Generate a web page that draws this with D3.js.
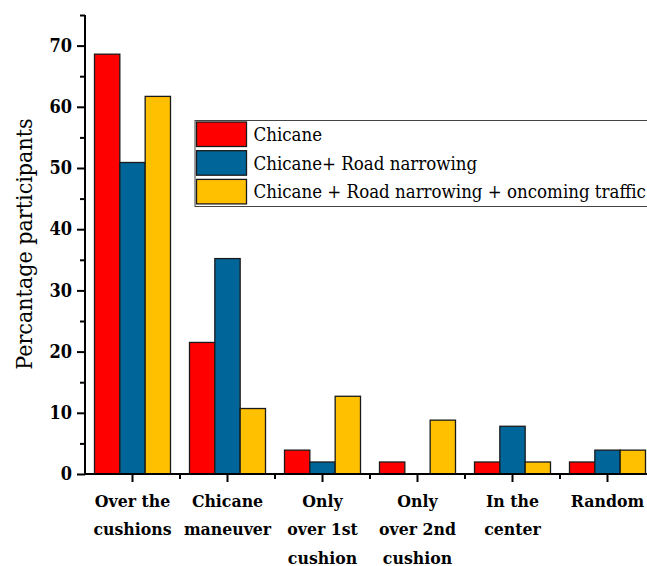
<!DOCTYPE html>
<html>
<head>
<meta charset="utf-8">
<script src="https://cdn.jsdelivr.net/npm/d3@7"></script>
<style>
  body { margin: 0; background: #fff; }
  svg { display: block; }
</style>
</head>
<body>
<div id="chart"></div>
<script>
// Data______________________________________________________
const categories = [
    ['Over the', 'cushions'],
    ['Chicane', 'maneuver'],
    ['Only', 'over 1st', 'cushion'],
    ['Only', 'over 2nd', 'cushion'],
    ['In the', 'center'],
    ['Random']
];
const seriesNames = ['Chicane', 'Chicane+ Road narrowing', 'Chicane + Road narrowing + oncoming traffic'];
const chicane = [68.6, 21.5, 3.9, 1.96, 1.96, 1.96];
const chicaneNarrowing = [50.9, 35.2, 1.96, 0, 7.8, 3.9];
const chicaneNarrowingTraffic = [61.7, 10.7, 12.7, 8.8, 1.96, 3.9];
const yTicks = [0, 10, 20, 30, 40, 50, 60, 70];
const colors = ['#ff0000', '#006699', '#ffc000'];

// Sizes_____________________________________________________
const width = 647;
const height = 566;
const x0 = 85, x1 = 655;
const yTop = 15, yBottom = 474;
const font = '"DejaVu Serif Condensed", "DejaVu Serif", serif';

const series = [chicane, chicaneNarrowing, chicaneNarrowingTraffic];

const svg = d3.select('#chart')
    .append('svg')
    .attr('width', width)
    .attr('height', height);

// the last category band runs past the right edge of the picture
const x = d3.scaleBand()
    .domain(d3.range(categories.length))
    .range([x0, x1])
    .paddingInner(0.2)
    .paddingOuter(0.1);

const xSub = d3.scaleBand()
    .domain(d3.range(series.length))
    .range([0, x.bandwidth()]);

const y = d3.scaleLinear()
    .domain([0, 75])
    .range([yBottom, yTop]);

// Bars______________________________________________________
const group = svg.selectAll('g.group')
    .data(categories)
    .enter()
    .append('g')
    .attr('class', 'group')
    .attr('transform', (d, i) => `translate(${x(i)},0)`);

group.selectAll('rect')
    .data((d, i) => series.map((s, k) => ({ k: k, v: s[i] })))
    .enter()
    .filter(d => d.v > 0)
    .append('rect')
    .attr('x', d => xSub(d.k))
    .attr('y', d => y(d.v))
    .attr('width', xSub.bandwidth())
    .attr('height', d => y(0) - y(d.v))
    .attr('fill', d => colors[d.k])
    .attr('stroke', '#1a1a1a')
    .attr('stroke-width', 1.3);

// Y axis____________________________________________________
const yAxis = d3.axisLeft(y)
    .tickValues(yTicks)
    .tickSize(8)
    .tickPadding(5)
    .tickFormat(d3.format('d'));

const yAxisMinor = d3.axisLeft(y)
    .tickValues(d3.range(5, 75, 10).concat([75]))
    .tickSize(5)
    .tickFormat('');

const gyMinor = svg.append('g')
    .attr('transform', `translate(${x0},0)`)
    .call(yAxisMinor);
gyMinor.select('.domain').remove();

const gy = svg.append('g')
    .attr('transform', `translate(${x0},0)`)
    .call(yAxis);
gy.select('.domain')
    .attr('d', `M0,${yTop}V${yBottom}`);

// X axis____________________________________________________
const xMajor = d3.axisBottom(x)
    .tickSize(8)
    .tickFormat('');

const gx = svg.append('g')
    .attr('transform', `translate(0,${yBottom})`)
    .call(xMajor);
gx.select('.domain')
    .attr('d', `M${x0},0H${width}`);

// minor ticks between categories
svg.append('g')
    .selectAll('line')
    .data(d3.range(1, categories.length))
    .enter()
    .append('line')
    .attr('x1', d => x0 + d * x.step())
    .attr('x2', d => x0 + d * x.step())
    .attr('y1', yBottom)
    .attr('y2', yBottom + 5)
    .attr('stroke', '#000')
    .attr('stroke-width', 2);

svg.selectAll('.tick line, .domain')
    .attr('stroke', '#000')
    .attr('stroke-width', 2);

gy.selectAll('.tick text')
    .attr('font-family', font)
    .attr('font-weight', 'bold')
    .attr('font-size', 18)
    .attr('fill', '#000');

// Category labels
const catLabel = svg.append('g')
    .selectAll('text')
    .data(categories)
    .enter()
    .append('text')
    .attr('x', (d, i) => x(i) + x.bandwidth() / 2)
    .attr('y', 506.5)
    .attr('text-anchor', 'middle')
    .attr('font-family', font)
    .attr('font-weight', 'bold')
    .attr('font-size', 17.5)
    .attr('fill', '#000');

catLabel.selectAll('tspan')
    .data(d => d)
    .enter()
    .append('tspan')
    .attr('x', function () { return d3.select(this.parentNode).attr('x'); })
    .attr('dy', (d, i) => i === 0 ? 0 : 28.5)
    .text(d => d);

// Y title
svg.append('text')
    .attr('transform', `translate(32,244) rotate(-90)`)
    .attr('text-anchor', 'middle')
    .attr('font-family', font)
    .attr('font-size', 23)
    .attr('fill', '#000')
    .text('Percantage participants');

// Legend____________________________________________________
const legend = svg.append('g')
    .attr('transform', 'translate(195,120.5)');

legend.append('rect')
    .attr('width', 470)
    .attr('height', 86)
    .attr('fill', '#fff')
    .attr('stroke', '#444')
    .attr('stroke-width', 1);

const legendItem = legend.selectAll('g.legend-item')
    .data(seriesNames)
    .enter()
    .append('g')
    .attr('class', 'legend-item')
    .attr('transform', (d, i) => `translate(1.5,${1.5 + i * 28.7})`);

legendItem.append('rect')
    .attr('width', 50)
    .attr('height', 24.5)
    .attr('fill', (d, i) => colors[i])
    .attr('stroke', '#1a1a1a')
    .attr('stroke-width', 1.3);

legendItem.append('text')
    .attr('x', 57)
    .attr('y', 19)
    .attr('font-family', font)
    .attr('font-size', 18.5)
    .attr('fill', '#000')
    .text(d => d);
</script>
</body>
</html>
